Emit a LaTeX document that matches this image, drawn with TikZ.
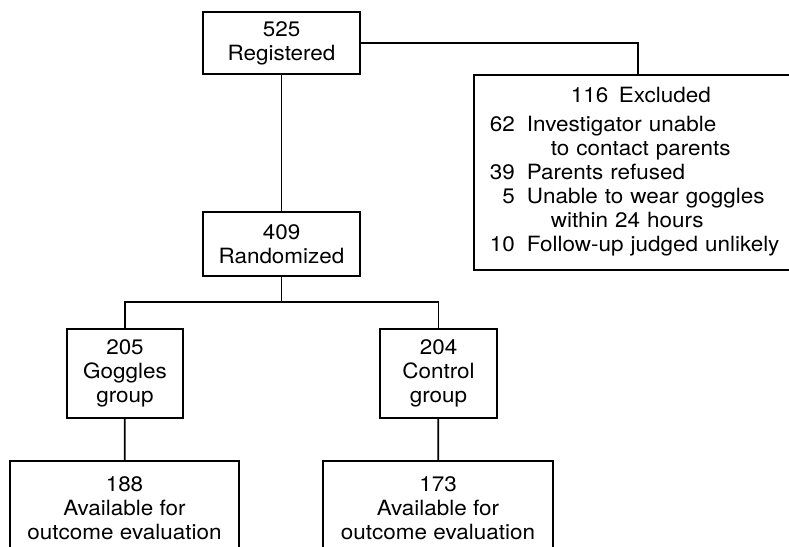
\documentclass[tikz,border=0pt]{standalone}
\usepackage{fontspec}
\setmainfont{TeX Gyre Heros}[FakeStretch=1.07]
\usetikzlibrary{positioning}

\begin{document}
\begin{tikzpicture}[
    x=1pt, y=-1pt,
    line width=1.8pt,
    box/.style={rectangle, draw, align=center, inner sep=2pt,
        font=\fontsize{21}{24}\selectfont},
    groupbox/.style={box, minimum width=116pt, minimum height=89pt},
    outbox/.style={box, minimum width=229pt, minimum height=94pt, anchor=north},
    link/.style={draw=black, line width=1.8pt}
]
    \useasboundingbox (0,0) rectangle (789,546);

    \node[box, minimum width=157pt, minimum height=62pt] (reg) at (281.5,43) {525\\Registered};
    \node[box, minimum width=157pt, minimum height=64pt] (rand) at (281.5,244) {409\\Randomized};
    \node[box, anchor=north west, text width=310pt, minimum height=195pt,
          inner xsep=16pt, align=left] (excl) at (473,74) {%
        \begin{tabular}{@{}r@{\hspace{12pt}}l@{}}
            \multicolumn{2}{@{}l@{}}{\hspace{81pt}116\enspace Excluded}\\[5pt]
            62 & Investigator unable\\
               & \hspace{24pt}to contact parents\\
            39 & Parents refused\\
             5 & Unable to wear goggles\\
               & \hspace{24pt}within 24 hours\\
            10 & Follow-up judged unlikely
        \end{tabular}};

    \node[groupbox] (gog) at (125,373.5) {205\\Goggles\\group};
    \node[groupbox, minimum width=117pt] (ctrl) at (438.5,373.5) {204\\Control\\group};
    \node[outbox] (avg) at (124.5,460) {188\\Available for\\outcome evaluation};
    \node[outbox, minimum width=230pt] (avc) at (438,460) {173\\Available for\\outcome evaluation};

    % connectors
    \coordinate (split) at (281.5,302);
    \draw[link] (reg.east) -| ([xshift=165pt]excl.north west);
    \draw[link] (reg) -- (rand);
    \draw[link] (rand) -- (split);
    \draw[link] (gog.north) |- (split) -| (ctrl.north);
    \draw[link] (gog) -- (avg);
    \draw[link] (ctrl) -- (avc);
\end{tikzpicture}
\end{document}
